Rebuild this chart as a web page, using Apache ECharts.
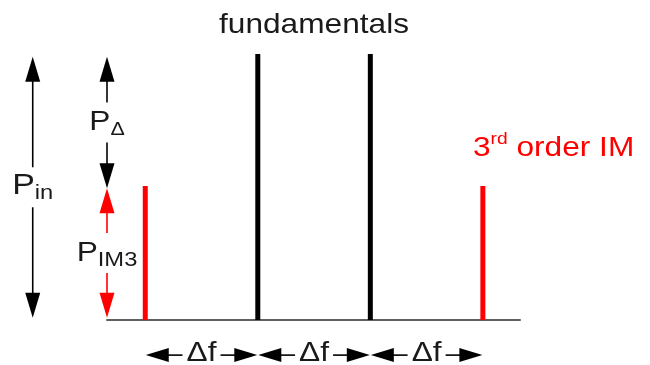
<!DOCTYPE html>
<html><head><meta charset="utf-8">
<script src="https://cdn.jsdelivr.net/npm/echarts@6/dist/echarts.min.js"></script>
<style>html,body{margin:0;padding:0;background:#fff}#chart{width:650px;height:365px}</style>
</head><body><div id="chart"></div>
<script>
// ---------------- data ----------------
const freqs  = [1, 2, 3, 4];               // tone positions, in units of Δf
const powers = [0.504, 1, 1, 0.504];       // relative power (fundamental = 1)
const kinds  = ['im3', 'fund', 'fund', 'im3'];
const fundLabel = 'fundamentals';
const im3Label  = ['3', 'rd', ' order IM'];

// vertical power arrows: P_in, P_Δ, P_IM3
const levelX    = [0, 0.66, 0.66];
const levelLow  = [0.008, 0.495, 0.008];
const levelHigh = [0.99, 0.99, 0.495];
const levelMain = ['P', 'P', 'P'];
const levelSub  = ['in', 'Δ', 'IM3'];
const levelKind = ['fund', 'fund', 'im3'];

// horizontal spacing arrows
const spacingFrom  = [1, 2, 3];
const spacingTo    = [2, 3, 4];
const spacingLevel = -0.132;
const spacingLabel = 'Δf';

const xRange = [0.66, 4.33];
const yRange = [0, 1];

// ---------------- styles ----------------
const COLORS = { fund: '#000000', im3: '#ff0000' };
const TEXT = '#1a1a1a';
const FONT = '"Liberation Sans", Arial, Helvetica, sans-serif';
const SX = 1.13;

const chart = echarts.init(document.getElementById('chart'), null, { renderer: 'canvas' });

function vArrow(params, api) {
  const i = params.dataIndex;
  const pLo = api.coord([api.value(0), api.value(1)]);
  const pHi = api.coord([api.value(0), api.value(2)]);
  const cx = pLo[0], yTop = pHi[1], yBot = pLo[1], yMid = (yTop + yBot) / 2;
  const col = COLORS[levelKind[i]];
  const HL = 25, HW = 7.5, GAP = 20;
  const ls = { stroke: col, lineWidth: 1.6 };
  const big = levelSub[i] === 'in';
  return {
    type: 'group',
    children: [
      { type: 'line', shape: { x1: cx, y1: yTop + HL - 2, x2: cx, y2: yMid - GAP }, style: ls },
      { type: 'line', shape: { x1: cx, y1: yMid + GAP, x2: cx, y2: yBot - HL + 2 }, style: ls },
      { type: 'polygon', shape: { points: [[cx, yTop], [cx - HW, yTop + HL], [cx + HW, yTop + HL]] }, style: { fill: col } },
      { type: 'polygon', shape: { points: [[cx, yBot], [cx - HW, yBot - HL], [cx + HW, yBot - HL]] }, style: { fill: col } },
      { type: 'text', x: cx, y: yMid - (big ? 2 : 0), scaleX: SX,
        style: {
          text: '{p|' + levelMain[i] + '}{s|' + levelSub[i] + '}',
          align: 'center', verticalAlign: 'middle', fill: TEXT, font: '28px ' + FONT,
          rich: {
            p: { fontSize: big ? 30 : 28, fontFamily: FONT, fill: TEXT },
            s: { fontSize: levelSub[i] === 'Δ' ? 19 : 21, fontFamily: FONT, fill: TEXT, padding: [15, 0, 0, 0] }
          }
        } }
    ]
  };
}

function hArrow(params, api) {
  const pL = api.coord([api.value(0), api.value(2)]);
  const pR = api.coord([api.value(1), api.value(2)]);
  const y = pL[1], xL = pL[0] + 0.5, xR = pR[0] - 0.5, xm = (xL + xR) / 2;
  const HL = 23, HW = 7, GAP = 19;
  const ls = { stroke: '#000', lineWidth: 1.6 };
  return {
    type: 'group',
    children: [
      { type: 'line', shape: { x1: xL + HL - 2, y1: y, x2: xm - GAP, y2: y }, style: ls },
      { type: 'line', shape: { x1: xm + GAP, y1: y, x2: xR - HL + 2, y2: y }, style: ls },
      { type: 'polygon', shape: { points: [[xL, y], [xL + HL, y - HW], [xL + HL, y + HW]] }, style: { fill: '#000' } },
      { type: 'polygon', shape: { points: [[xR, y], [xR - HL, y - HW], [xR - HL, y + HW]] }, style: { fill: '#000' } },
      { type: 'text', x: xm, y: y - 2, scaleX: SX,
        style: { text: spacingLabel, align: 'center', verticalAlign: 'middle', fill: TEXT, font: '28px ' + FONT } }
    ]
  };
}

chart.setOption({
  animation: false,
  backgroundColor: '#ffffff',
  grid: { left: 107, right: 130, top: 54, bottom: 45 },
  xAxis: {
    type: 'value', min: xRange[0], max: xRange[1],
    axisLine: { show: true, onZero: true, lineStyle: { color: '#5f5f5f', width: 2 } },
    axisTick: { show: false }, axisLabel: { show: false }, splitLine: { show: false }
  },
  yAxis: {
    type: 'value', min: yRange[0], max: yRange[1], show: false,
    splitLine: { show: false }
  },
  graphic: [
    { type: 'text', x: 314, y: 25, scaleX: SX,
      style: { text: fundLabel, align: 'center', verticalAlign: 'middle', fill: TEXT, font: '28px ' + FONT } },
    { type: 'text', x: 473, y: 148, scaleX: SX,
      style: {
        text: '{n|' + im3Label[0] + '}{sup|' + im3Label[1] + '}{n|' + im3Label[2] + '}',
        align: 'left', verticalAlign: 'middle', fill: COLORS.im3, font: '28px ' + FONT,
        rich: {
          n: { fontSize: 28, fontFamily: FONT, fill: COLORS.im3 },
          sup: { fontSize: 17, fontFamily: FONT, fill: COLORS.im3, padding: [0, 0, 18, 0] }
        }
      } }
  ],
  series: [
    {
      name: 'tones', type: 'bar', barWidth: 5, z: 3,
      data: freqs.map((f, i) => ({ value: [f, powers[i]], itemStyle: { color: COLORS[kinds[i]] } }))
    },
    {
      name: 'power levels', type: 'custom', clip: false, z: 4,
      encode: { x: 0, y: [1, 2] },
      data: levelX.map((x, i) => [x, levelLow[i], levelHigh[i]]),
      renderItem: vArrow
    },
    {
      name: 'spacing', type: 'custom', clip: false, z: 4,
      encode: { x: [0, 1], y: 2 },
      data: spacingFrom.map((f, i) => [f, spacingTo[i], spacingLevel]),
      renderItem: hArrow
    }
  ]
});
</script>
</body></html>
